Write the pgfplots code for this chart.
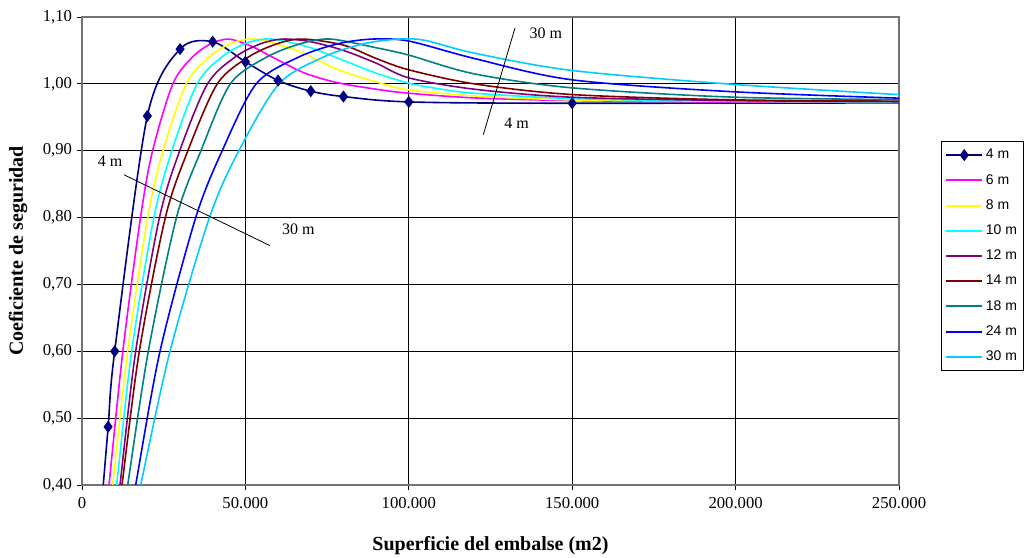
\documentclass[border=0pt]{standalone}
\usepackage{fontspec}
\setmainfont{Liberation Serif}
\newfontfamily\arial{Liberation Sans}
\usepackage{pgfplots}
\pgfplotsset{compat=1.18}
\definecolor{cA}{HTML}{000080}
\definecolor{cB}{HTML}{FF00FF}
\definecolor{cC}{HTML}{FFFF00}
\definecolor{cD}{HTML}{00FFFF}
\definecolor{cE}{HTML}{800080}
\definecolor{cF}{HTML}{800000}
\definecolor{cG}{HTML}{008080}
\definecolor{cH}{HTML}{0000FF}
\definecolor{cI}{HTML}{00CCFF}
\pgfplotsset{
  lineleg/.style={legend image code/.code={\draw[##1, line width=1.5pt] (0pt,0pt) -- (27pt,0pt);}},
  diamleg/.style={legend image code/.code={\draw[##1, line width=1.5pt] (0pt,0pt) -- (27pt,0pt);
    \draw[##1] plot coordinates {(13.5pt,0pt)};}},
}

\begin{document}
\begin{tikzpicture}
\begin{axis}[
  name=ax,
  width=612.75pt, height=351pt,
  scale only axis,
  xmin=0, xmax=250000,
  ymin=0.4, ymax=1.1,
  xtick={0,50000,100000,150000,200000,250000},
  ytick={0.4,0.5,0.6,0.7,0.8,0.9,1.0,1.1},
  scaled x ticks=false,
  xticklabel style={font=\fontsize{12.5}{14}\selectfont, yshift=-2pt,
    /pgf/number format/.cd, fixed, 1000 sep={.}, assume math mode=true},
  yticklabel style={font=\fontsize{12.5}{14}\selectfont,
    /pgf/number format/.cd, fixed, fixed zerofill, precision=2, use comma, assume math mode=true},
  grid=major,
  major grid style={black, line width=0.6pt},
  axis line style={black!55, line width=1pt},
  tick align=outside, tick pos=left,
  major tick length=4pt,
  tick style={black, line width=0.6pt},
  xlabel={Superficie del embalse (m2)},
  ylabel={Coeficiente de seguridad},
  xlabel style={font=\fontsize{15}{18}\selectfont\bfseries, at={(axis description cs:0.5,-0.13)}, anchor=center},
  ylabel style={font=\fontsize{15}{18}\selectfont\bfseries, at={(axis description cs:-0.0783,0.5)}, anchor=center},
  legend style={at={(1.0514,0.735)}, anchor=north west,
    font=\arial\fontsize{10.5}{12}\selectfont,
    draw=black, row sep=6.1pt,
    inner xsep=3pt, inner ysep=4pt, cells={anchor=west}},
  lineleg,
  every axis plot/.append style={smooth, line width=1.2pt},
]
% 4 m
\addplot[cA, mark=diamond*, mark size=3.6pt, mark options={fill=cA}, diamleg] coordinates {
  (6000,0.37) (8000,0.487) (10000,0.600) (20000,0.952) (30000,1.052)
  (40000,1.063) (50000,1.033) (60000,1.005) (70000,0.989) (80000,0.981)
  (100000,0.973) (150000,0.971) (300000,0.972)
};
% 6 m
\addplot[cB, mark=none] coordinates {
  (7620,0.37) (8260,0.40) (12500,0.60) (17900,0.80) (21600,0.90) (27800,1.00)
  (33800,1.04) (39400,1.06) (44300,1.067) (47600,1.064) (52000,1.056)
  (57500,1.042) (67700,1.017) (77900,1.002) (90000,0.992) (100000,0.986)
  (120000,0.979) (150000,0.975) (200000,0.973) (260000,0.973)
};
% 8 m
\addplot[cC, mark=none] coordinates {
  (8700,0.37) (9390,0.40) (13980,0.60) (20100,0.80) (24800,0.90) (31900,1.00)
  (38840,1.04) (45300,1.06) (51000,1.067) (55500,1.065) (60000,1.059)
  (67700,1.046) (77900,1.022) (90000,1.003) (100000,0.991) (120000,0.982)
  (150000,0.976) (200000,0.974) (260000,0.973)
};
% 10 m
\addplot[cD, mark=none] coordinates {
  (9930,0.37) (10620,0.40) (15200,0.60) (22000,0.80) (27500,0.90) (35200,1.00)
  (42750,1.04) (49800,1.06) (56000,1.067) (61000,1.065) (70000,1.054)
  (80000,1.035) (90000,1.016) (100000,1.001) (110000,0.992) (120000,0.986)
  (150000,0.978) (200000,0.974) (260000,0.973)
};
% 12 m
\addplot[cE, mark=none] coordinates {
  (10910,0.37) (11630,0.40) (16430,0.60) (23700,0.80) (29900,0.90) (38400,1.00)
  (46820,1.04) (54670,1.06) (61600,1.067) (70000,1.063) (80000,1.050)
  (90000,1.031) (100000,1.009) (120000,0.992) (150000,0.980) (200000,0.975)
  (260000,0.973)
};
% 14 m
\addplot[cF, mark=none] coordinates {
  (11445,0.37) (12240,0.40) (17540,0.60) (25500,0.80) (32400,0.90) (41400,1.00)
  (50890,1.04) (59710,1.06) (67500,1.067) (80000,1.058) (90000,1.038)
  (100000,1.021) (120000,1.000) (150000,0.984) (200000,0.976) (260000,0.974)
};
% 18 m
\addplot[cG, mark=none] coordinates {
  (13030,0.37) (13980,0.40) (20290,0.60) (28900,0.80) (36400,0.90) (45400,1.00)
  (56510,1.04) (66860,1.06) (76000,1.067) (90000,1.054) (100000,1.043)
  (120000,1.015) (150000,0.994) (200000,0.980) (260000,0.976)
};
% 24 m
\addplot[cH, mark=none] coordinates {
  (15310,0.37) (16430,0.40) (23870,0.60) (34800,0.80) (42900,0.90) (53300,1.00)
  (66280,1.04) (78350,1.06) (89000,1.067) (100000,1.064) (120000,1.038)
  (150000,1.006) (200000,0.988) (260000,0.977)
};
% 30 m
\addplot[cI, mark=none] coordinates {
  (16615,0.37) (17960,0.40) (26930,0.60) (39000,0.80) (48000,0.90) (60300,1.00)
  (73830,1.04) (86140,1.06) (97000,1.067) (105000,1.065) (120000,1.046)
  (150000,1.020) (200000,0.999) (260000,0.981)
};
\legend{4 m,6 m,8 m,10 m,12 m,14 m,18 m,24 m,30 m}

\draw[black, line width=0.6pt] (axis cs:12850,0.864) -- (axis cs:57530,0.758);
\draw[black, line width=0.6pt] (axis cs:132500,1.0836) -- (axis cs:122800,0.924);
\node[font=\fontsize{12}{14}\selectfont] at (axis cs:8570,0.884) {4 m};
\node[font=\fontsize{12}{14}\selectfont] at (axis cs:66190,0.783) {30 m};
\node[font=\fontsize{12}{14}\selectfont] at (axis cs:141900,1.0755) {30 m};
\node[font=\fontsize{12}{14}\selectfont] at (axis cs:133000,0.9405) {4 m};
\end{axis}
\pgfresetboundingbox
\path ([shift={(-61.5pt,-54.75pt)}]ax.south west) rectangle ([shift={(95.25pt,12.75pt)}]ax.north east);
\end{tikzpicture}
\end{document}
